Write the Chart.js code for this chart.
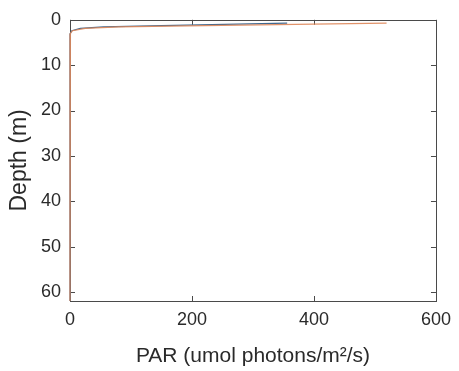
<!DOCTYPE html>
<html>
<head>
<meta charset="utf-8">
<script src="https://cdn.jsdelivr.net/npm/chart.js@4.4.0/dist/chart.umd.min.js"></script>
<style>
  body { margin: 0; background: #fff; }
  canvas { display: block; }
</style>
</head>
<body>
<canvas id="myChart" width="459" height="371"></canvas>
<script>
// depth (m) of each sample, and PAR at that depth for the two profiles
var depths = [0.75, 1.3, 1.55, 1.9, 2.4, 3, 4, 62];
var parBlue = [356, 150, 55, 17, 3, 0.5, 0, 0];
var parOrange = [519, 220, 80, 25, 4, 0.7, 0, 0];
var xTicks = [0, 200, 400, 600];
var yTicks = [0, 10, 20, 30, 40, 50, 60];

document.addEventListener("DOMContentLoaded", function () {

    function toPoints(xs, ys) {
        return ys.map(function (y, i) { return {x: xs[i], y: y}; });
    }

    // matlab style box with ticks pointing inward (drawn under the lines)
    var boxPlugin = {
        id: 'box',
        beforeDatasetsDraw: function (chart) {
            var ctx = chart.ctx;
            var a = chart.chartArea;
            var sx = chart.scales.x, sy = chart.scales.y;
            var len = 5;
            ctx.save();
            ctx.strokeStyle = '#4a4a4a';
            ctx.lineWidth = 1;
            ctx.strokeRect(Math.round(a.left) + 0.5, Math.round(a.top) + 0.5,
                Math.round(a.right - a.left), Math.round(a.bottom - a.top));
            ctx.beginPath();
            xTicks.forEach(function (v) {
                var px = Math.round(sx.getPixelForValue(v)) + 0.5;
                ctx.moveTo(px, a.bottom); ctx.lineTo(px, a.bottom - len);
                ctx.moveTo(px, a.top); ctx.lineTo(px, a.top + len);
            });
            yTicks.forEach(function (v) {
                var py = Math.round(sy.getPixelForValue(v)) + 0.5;
                ctx.moveTo(a.left, py); ctx.lineTo(a.left + len, py);
                ctx.moveTo(a.right, py); ctx.lineTo(a.right - len, py);
            });
            ctx.stroke();
            ctx.restore();
        }
    };

    function renderChart(ctx) {
        var myChart = new Chart(ctx, {
            type: 'scatter',
            data: {
                datasets: [{
                    data: toPoints(parBlue, depths),
                    showLine: true,
                    borderColor: '#40688f',
                    borderWidth: 1.2,
                    pointRadius: 0,
                    order: 2
                }, {
                    data: toPoints(parOrange, depths),
                    showLine: true,
                    borderColor: 'rgba(222,135,90,0.9)',
                    borderWidth: 1.2,
                    pointRadius: 0,
                    order: 1
                }]
            },
            plugins: [boxPlugin],
            options: {
                responsive: false,
                animation: false,
                clip: false,
                layout: { padding: { top: 19, right: 21, left: 0, bottom: 0 } },
                plugins: {
                    legend: { display: false },
                    tooltip: { enabled: false }
                },
                scales: {
                    x: {
                        type: 'linear',
                        min: 0,
                        max: 600,
                        afterFit: function (s) { s.height = 70; },
                        afterBuildTicks: function (s) {
                            s.ticks = xTicks.map(function (v) { return {value: v}; });
                        },
                        grid: { display: false, drawTicks: false },
                        border: { display: false },
                        ticks: {
                            padding: 8,
                            color: '#2a2a2a',
                            maxRotation: 0,
                            font: { family: 'Liberation Sans', size: 18 }
                        },
                        title: {
                            display: true,
                            text: 'PAR (umol photons/m²/s)',
                            color: '#2a2a2a',
                            padding: { top: 0, bottom: 2 },
                            font: { family: 'Liberation Sans', size: 21 }
                        }
                    },
                    y: {
                        type: 'linear',
                        reverse: true,
                        min: 0,
                        max: 62,
                        afterFit: function (s) { s.width = 70; },
                        afterBuildTicks: function (s) {
                            s.ticks = yTicks.map(function (v) { return {value: v}; });
                        },
                        grid: { display: false, drawTicks: false },
                        border: { display: false },
                        ticks: {
                            padding: 9,
                            color: '#2a2a2a',
                            font: { family: 'Liberation Sans', size: 18 }
                        },
                        title: {
                            display: true,
                            text: 'Depth (m)',
                            color: '#2a2a2a',
                            padding: { top: 6, bottom: 0 },
                            font: { family: 'Liberation Sans', size: 23 }
                        }
                    }
                }
            }
        });
    }

    var ctx = document.getElementById('myChart').getContext('2d');
    renderChart(ctx);
});
</script>
</body>
</html>
